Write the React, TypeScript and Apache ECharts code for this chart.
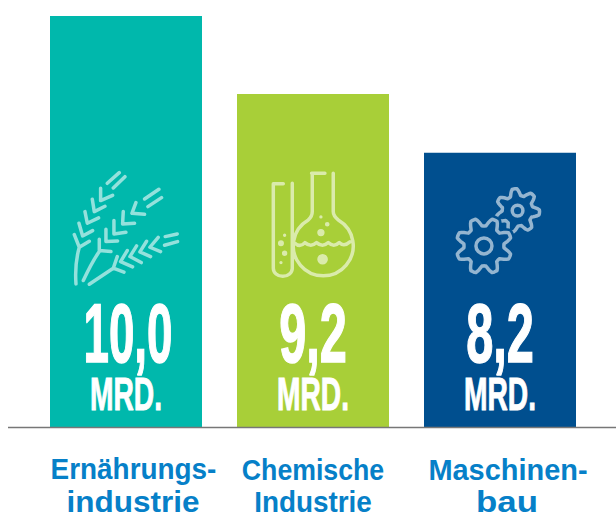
import React, { useEffect, useRef } from "react";
import * as echarts from "echarts";

const categories = ["Ernährungs-\nindustrie", "Chemische\nIndustrie", "Maschinen-\nbau"];
const valueLabels = ["10,0", "9,2", "8,2"];
const unitLabels = ["MRD.", "MRD.", "MRD."];
// drawn bar lengths (the source graphic is not to scale)
const barLengths = [10.0, 8.1, 6.67];
const barColors = ["#00B8AC", "#A8CF38", "#004F8F"];
const iconKinds = ["wheat", "flask", "gearSmall"];

const WHEAT =
  "M78 372C75 330 80 290 88 262M73 224L88 262L118 244" +
  "M87 190L98 228L128 212M105 155L112 190L146 174M127 118L133 155L165 139M152 85L152 122L188 106M172 70L208 38M190 84L225 50" +
  "M100 362C115 330 130 300 148 275M148 238L148 272L183 275" +
  "M168 208L168 245L203 243M192 182L192 222L228 217M220 155L218 192L254 190M258 128L246 160L284 163M284 117L327 88M294 140L335 113" +
  "M118 373L190 325M202 290L190 325L222 337" +
  "M232 272L212 305L248 321M260 258L240 290L274 308M290 244L270 276L302 290M325 232L300 262L332 275M346 230L382 222M344 256L383 245";

const FLASK =
  "M130 71L100 71L100 325A28 24 0 0 0 157 325L157 70" +
  "M215 40L255 40M217 40L217 155Q217 170 205 180A90 90 0 1 0 295 180Q280 168 280 155L280 40" +
  "M165 250Q180 264 195 248Q213 264 230 248Q248 264 265 248Q282 264 298 248Q312 262 330 246";

const dot = (x: number, y: number, r: number) =>
  `M${x - r} ${y}A${r} ${r} 0 1 0 ${x + r} ${y}A${r} ${r} 0 1 0 ${x - r} ${y}Z`;
const FLASK_DOTS = [
  [123, 250, 9], [134, 226, 5], [134, 280, 8], [123, 308, 5],
  [243, 218, 11], [262, 193, 7], [243, 171, 5], [248, 298, 16],
].map(([x, y, r]) => dot(x, y, r)).join("");

function gearOutline(cx: number, cy: number, rIn: number, rOut: number, teeth: number, phaseDeg: number) {
  let d = "";
  const steps = teeth * 16;
  for (let i = 0; i <= steps; i++) {
    const th = (i / steps) * Math.PI * 2 + (phaseDeg * Math.PI) / 180;
    const c = Math.cos(teeth * (th - (phaseDeg * Math.PI) / 180));
    const k = Math.max(-1, Math.min(1, c * 1.35));
    const r = rIn + ((rOut - rIn) * (k + 1)) / 2;
    d += `${i ? "L" : "M"}${(cx + r * Math.cos(th)).toFixed(1)} ${(cy + r * Math.sin(th)).toFixed(1)}`;
  }
  return d + "Z";
}
const GEAR_BIG_OUT = gearOutline(162, 228, 60, 84, 8, -112.5);
const GEAR_BIG = GEAR_BIG_OUT + dot(162, 228, 24);
const GEAR_SMALL = gearOutline(263, 122, 46, 66, 7, -98) + dot(263, 122, 16);

echarts.graphic.registerShape("wheat", echarts.graphic.extendPath(WHEAT as any, {}) as any);
echarts.graphic.registerShape("flask", echarts.graphic.extendPath(FLASK as any, {}) as any);
echarts.graphic.registerShape("flaskDots", echarts.graphic.extendPath(FLASK_DOTS as any, {}) as any);
echarts.graphic.registerShape("gearSmall", echarts.graphic.extendPath(GEAR_SMALL as any, {}) as any);
echarts.graphic.registerShape("gearMask", echarts.graphic.extendPath(GEAR_BIG_OUT as any, {}) as any);
echarts.graphic.registerShape("gearBig", echarts.graphic.extendPath(GEAR_BIG as any, {}) as any);

const ICON_ORIGINS: Record<string, [number, number]> = {
  wheat: [-76, -267],
  flask: [-73, -267],
  gearSmall: [-70, -257],
};

const LABEL_FONT = '"Liberation Sans", sans-serif';
const VALUE_SHIFT = [2, 0, 0];
const VALUE_SCALE = [0.545, 0.58, 0.58];
const LINE_SCALE = [[0.93, 1.05], [0.89, 0.93], [0.965, 1.16]];
const LINE_SHIFT = [7.5, 0, 8];

export default function App() {
  const ref = useRef<HTMLDivElement>(null);
  useEffect(() => {
    document.body.style.margin = "0";
    const chart = echarts.init(ref.current!, null, { renderer: "svg" });
    chart.setOption({
      animation: false,
      grid: { left: 32.5, top: 16, width: 561, height: 411, outerBoundsMode: "none", containLabel: false },
      xAxis: {
        type: "category",
        data: categories,
        axisLine: { show: false },
        axisTick: { show: false },
        axisLabel: { show: false },
      },
      yAxis: { type: "value", min: 0, max: 10, show: false },
      graphic: [
        {
          type: "line",
          shape: { x1: 8, y1: 427.5, x2: 616, y2: 427.5 },
          style: { stroke: "#777777", lineWidth: 1.5 },
          z: 20,
        },
      ],
      series: [
        {
          type: "bar",
          data: barLengths.map((v, i) => ({ value: v, itemStyle: { color: barColors[i] } })),
          barWidth: 152,
          silent: true,
        },
        {
          type: "custom",
          data: barLengths.map((v, i) => [i, v]),
          silent: true,
          z: 5,
          clip: false,
          renderItem: (params: any, api: any) => {
            const i = params.dataIndex;
            const [cx, by] = api.coord([i, 0]);
            const kind = iconKinds[i];
            const [ox, oy] = ICON_ORIGINS[kind];
            const iconStroke = "rgba(255,255,255,0.58)";
            const iconStyle = { stroke: iconStroke, fill: "none", lineWidth: 10.5, lineCap: "round", lineJoin: "round" };
            const base = { x: cx + ox, y: by + oy, scaleX: 1 / 3, scaleY: 1 / 3 };
            const children: any[] = [{ type: kind, ...base, style: iconStyle }];
            if (kind === "flask") {
              children.push({ type: "flaskDots", ...base, style: { fill: iconStroke, stroke: "none" } });
            }
            if (kind === "gearSmall") {
              children.push({
                type: "gearMask", ...base,
                style: { fill: barColors[i], stroke: barColors[i], lineWidth: 26, lineJoin: "round" },
              });
              children.push({ type: "gearBig", ...base, style: iconStyle });
            }
            children.push({
              type: "text", x: cx + VALUE_SHIFT[i], y: by - 94, scaleX: VALUE_SCALE[i],
              style: { text: valueLabels[i], font: `bold 84px ${LABEL_FONT}`, fill: "#FFFFFF", stroke: "#FFFFFF", lineWidth: 1.5, align: "center", verticalAlign: "middle" },
            });
            children.push({
              type: "text", x: cx, y: by - 33, scaleX: 0.6,
              style: { text: unitLabels[i], font: `bold 47px ${LABEL_FONT}`, fill: "#FFFFFF", stroke: "#FFFFFF", lineWidth: 1, align: "center", verticalAlign: "middle" },
            });
            categories[i].split("\n").forEach((t, k) => {
              children.push({
                type: "text", x: cx + (k === 0 ? LINE_SHIFT[i] : 7 * (i === 1 ? 0 : 1)), y: by + 42 + k * 33, scaleX: LINE_SCALE[i][k],
                style: { text: t, font: `bold 30px ${LABEL_FONT}`, fill: "#0680C8", align: "center", verticalAlign: "middle" },
              });
            });
            return { type: "group", children };
          },
        },
      ],
    });
    return () => chart.dispose();
  }, []);
  return <div ref={ref} style={{ width: 616, height: 519, background: "#fff", overflow: "hidden" }} />;
}
